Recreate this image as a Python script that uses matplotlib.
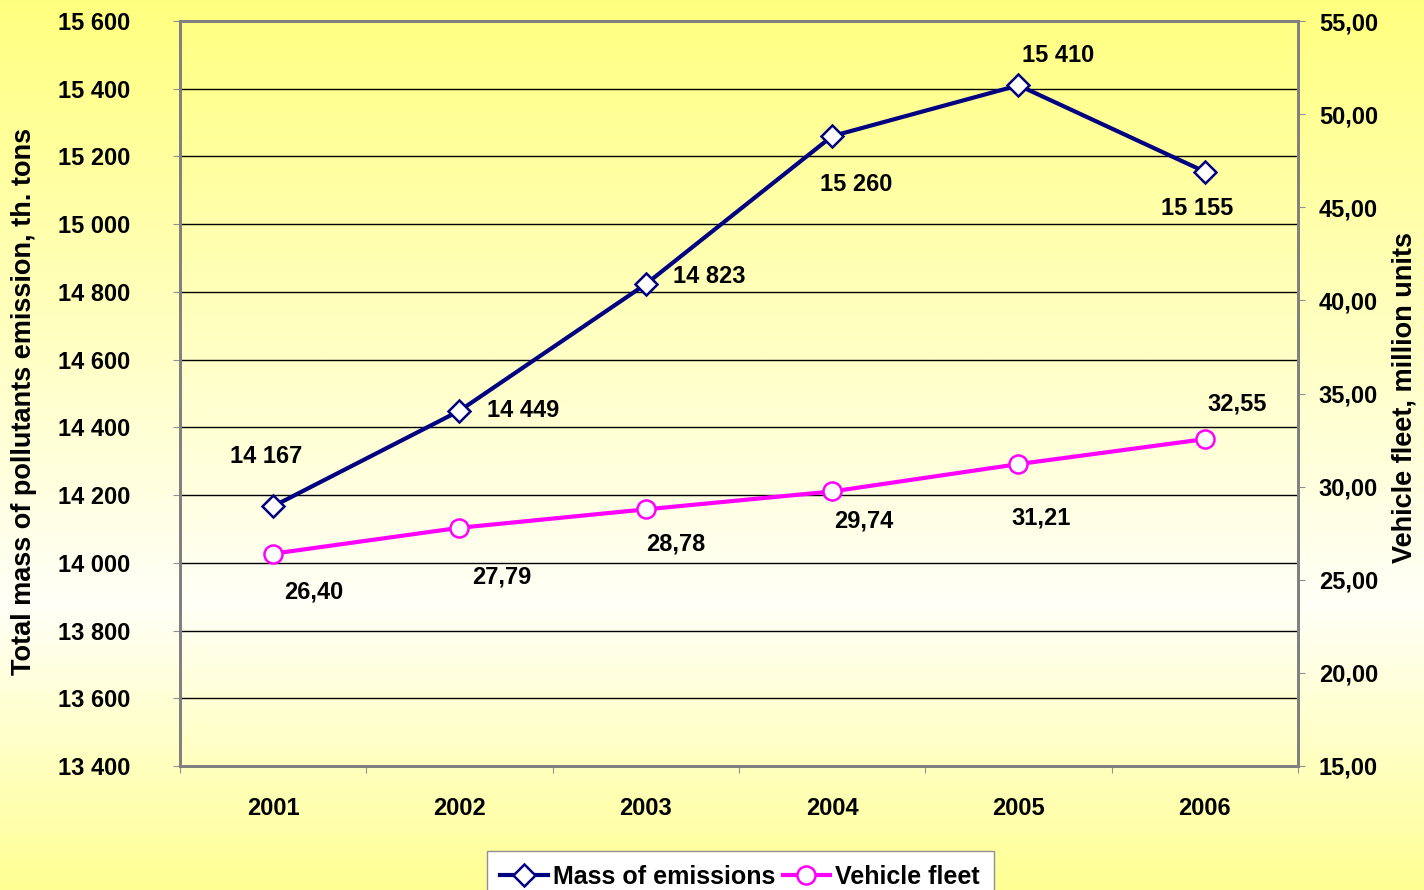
import numpy as np
import matplotlib
matplotlib.use("Agg")
import matplotlib.pyplot as plt
from matplotlib.colors import LinearSegmentedColormap

plt.rcParams['font.family'] = ['Liberation Sans', 'DejaVu Sans']
plt.rcParams['font.weight'] = 'bold'

years = ["2001", "2002", "2003", "2004", "2005", "2006"]
emissions = [14167, 14449, 14823, 15260, 15410, 15155]
fleet = [26.40, 27.79, 28.78, 29.74, 31.21, 32.55]
emis_labels = ["14 167", "14 449", "14 823", "15 260", "15 410", "15 155"]
fleet_labels = ["26,40", "27,79", "28,78", "29,74", "31,21", "32,55"]
left_ticks = list(range(13400, 15601, 200))
right_ticks = list(range(15, 56, 5))

# label offsets in pixels (dx, dy), screen y up
emis_off = [(-7, 50), (64, 0), (63, 8), (24, -48), (40, 30), (-8, -37)]
fleet_off = [(41, -38), (42, -49), (30, -35), (32, -30), (23, -54), (32, 35)]

NAVY = "#000080"
PINK = "#FF00FF"

fig = plt.figure(figsize=(14.24, 8.9), dpi=100)

# background gradient: yellow top, pale lower-middle, yellow bottom
bg = fig.add_axes([0, 0, 1, 1], zorder=-10)
cmap = LinearSegmentedColormap.from_list(
    "bg", [(0.0, (1, 1, 0.50)), (0.68, (1, 1, 0.97)), (1.0, (1, 1, 0.58))])
grad = np.linspace(0, 1, 400).reshape(-1, 1)
bg.imshow(grad, aspect="auto", cmap=cmap, extent=[0, 1, 0, 1], origin="upper")
bg.axis("off")

ax = fig.add_axes([180 / 1424, 124 / 890, 1118 / 1424, 745 / 890])
ax.set_facecolor("none")
x = np.arange(len(years))

ax.set_xlim(-0.5, len(years) - 0.5)
ax.set_ylim(13400, 15600)
ax.set_yticks(left_ticks)
ax.set_yticklabels([f"{v:,}".replace(",", " ") for v in left_ticks])
for v in left_ticks[1:-1]:
    ax.axhline(v, color="black", lw=1.0, zorder=1)

ax.set_xticks(np.arange(-0.5, len(years), 1.0))
ax.set_xticklabels([])
ax.set_xticks(x, minor=True)
ax.set_xticklabels(years, minor=True, fontsize=17, fontweight="bold")
ax.tick_params(axis="x", which="minor", length=0, pad=22)
ax.tick_params(axis="x", which="major", length=5, color="#909090", direction="out")
ax.tick_params(axis="y", length=5, color="#909090", direction="out",
               labelsize=17, pad=31)
for s in ax.spines.values():
    s.set_color("#808080")
    s.set_linewidth(2)

ax.plot(x, emissions, color=NAVY, lw=3, marker="D", ms=11,
        mfc="white", mec=NAVY, mew=1.8, zorder=5, label="Mass of emissions")
for xi, yi, lab, (dx, dy) in zip(x, emissions, emis_labels, emis_off):
    ax.annotate(lab, (xi, yi), xytext=(dx, dy), textcoords="offset pixels",
                ha="center", va="center", fontsize=17, fontweight="bold")

ax.set_ylabel("Total mass of pollutants emission, th. tons",
              fontsize=19.5, fontweight="bold")
ax.yaxis.set_label_coords(-143 / 1118, 0.489)

ax2 = ax.twinx()
ax2.set_ylim(15, 55)
ax2.set_yticks(right_ticks)
ax2.set_yticklabels([f"{v:.2f}".replace(".", ",") for v in right_ticks])
ax2.tick_params(axis="y", length=5, color="#909090", direction="out",
                labelsize=17, pad=10)
for s in ax2.spines.values():
    s.set_color("#808080")
    s.set_linewidth(2)
ax2.plot(x, fleet, color=PINK, lw=3, marker="o", ms=13,
         mfc="white", mec=PINK, mew=1.8, zorder=5, label="Vehicle fleet")
for xi, yi, lab, (dx, dy) in zip(x, fleet, fleet_labels, fleet_off):
    ax2.annotate(lab, (xi, yi), xytext=(dx, dy), textcoords="offset pixels",
                 ha="center", va="center", fontsize=17, fontweight="bold")
ax2.set_ylabel("Vehicle fleet, million units", fontsize=19.5,
               fontweight="bold", rotation=90)
ax2.yaxis.set_label_coords(1 + 93 / 1118, 0.495)

h1, l1 = ax.get_legend_handles_labels()
h2, l2 = ax2.get_legend_handles_labels()
leg = fig.legend(h1 + h2, l1 + l2, loc="upper center", ncol=2,
                 bbox_to_anchor=(740 / 1424, 1 - 851 / 890),
                 fontsize=18, frameon=True, fancybox=False,
                 handlelength=1.9, handletextpad=0.2, columnspacing=0.3,
                 borderpad=0.55, borderaxespad=0)
leg.get_frame().set_edgecolor("#909090")
leg.get_frame().set_facecolor("white")
leg.get_frame().set_alpha(1)
for t in leg.get_texts():
    t.set_fontweight("bold")

fig.savefig("out.png", dpi=100)
